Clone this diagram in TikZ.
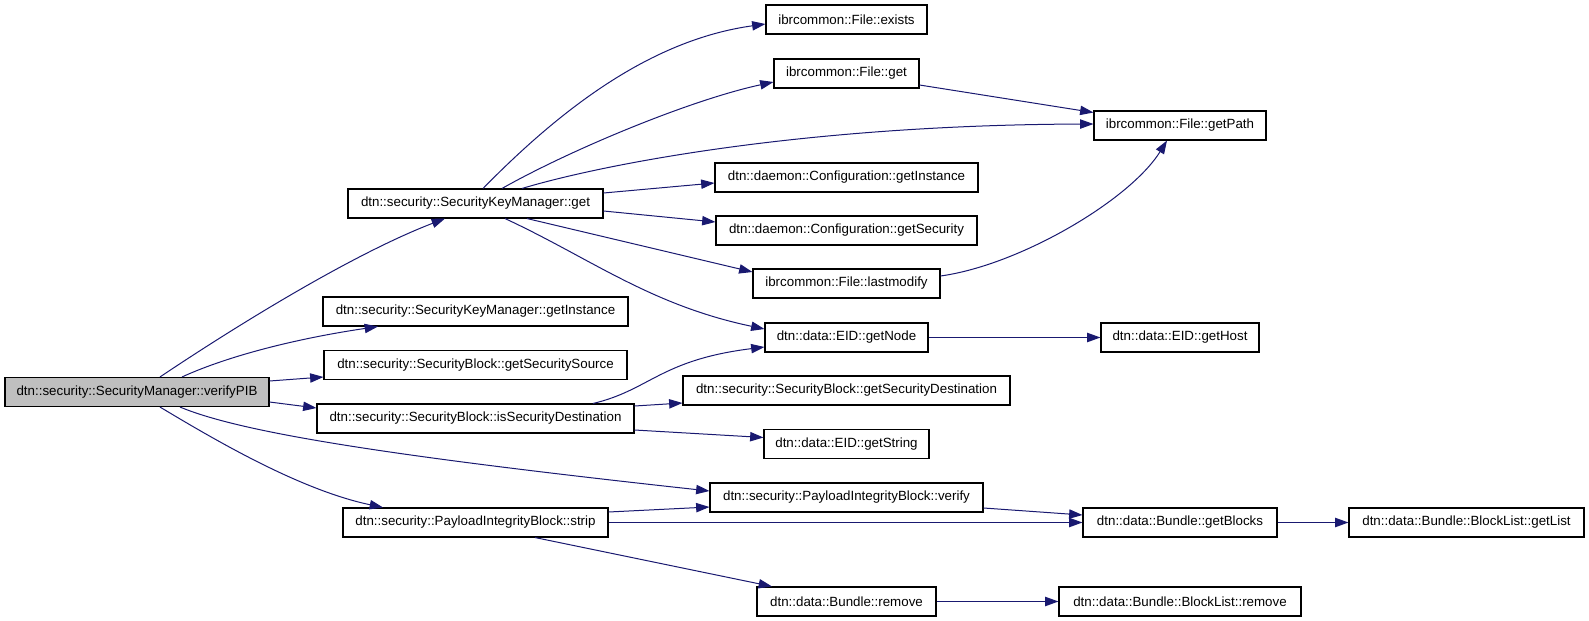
\documentclass[tikz,border=0pt]{standalone}
\usepackage{fontspec}
\setmainfont{Liberation Sans}
\usetikzlibrary{arrows.meta,calc}
\definecolor{edgeblue}{HTML}{191970}
\definecolor{pibgray}{HTML}{BFBFBF}
\begin{document}
\begin{tikzpicture}[x=0.75pt,y=-0.75pt,
  fn/.style={draw=black, line width=0.8pt, fill=white, inner sep=0pt, minimum height=21.75pt, font=\fontsize{10}{12}\selectfont},
  call/.style={draw=edgeblue, line width=0.75pt, -{Triangle[length=10pt,width=7pt]}, fill=none}]
\useasboundingbox (0,0) rectangle (1589,621);

% nodes
\node[fn, minimum width=198pt, fill=pibgray] (pib) at (137,392) {dtn::security::SecurityManager::verifyPIB};
\node[fn, minimum width=191.25pt] (skmget) at (475.5,203.5) {dtn::security::SecurityKeyManager::get};
\node[fn, minimum width=228.75pt] (skminst) at (475.5,311.5) {dtn::security::SecurityKeyManager::getInstance};
\node[fn, minimum width=227.25pt] (src) at (475.5,365) {dtn::security::SecurityBlock::getSecuritySource};
\node[fn, minimum width=237.75pt] (isdest) at (475.5,418.5) {dtn::security::SecurityBlock::isSecurityDestination};
\node[fn, minimum width=198.75pt] (strip) at (475.5,522.5) {dtn::security::PayloadIntegrityBlock::strip};

\node[fn, minimum width=120.75pt] (exists) at (846.5,19.5) {ibrcommon::File::exists};
\node[fn, minimum width=108.75pt] (fget) at (846.5,73.5) {ibrcommon::File::get};
\node[fn, minimum width=197.25pt] (cinst) at (846.5,177.5) {dtn::daemon::Configuration::getInstance};
\node[fn, minimum width=195.75pt] (csec) at (846.5,230.5) {dtn::daemon::Configuration::getSecurity};
\node[fn, minimum width=140.25pt] (lastmod) at (846.5,283.5) {ibrcommon::File::lastmodify};
\node[fn, minimum width=122.25pt] (getnode) at (846.5,337.5) {dtn::data::EID::getNode};
\node[fn, minimum width=245.25pt] (secdest) at (846.5,390.5) {dtn::security::SecurityBlock::getSecurityDestination};
\node[fn, minimum width=123.75pt] (getstring) at (846.5,444) {dtn::data::EID::getString};
\node[fn, minimum width=204.75pt] (verify) at (846.5,497.5) {dtn::security::PayloadIntegrityBlock::verify};
\node[fn, minimum width=134.25pt] (bremove) at (846.5,601.5) {dtn::data::Bundle::remove};

\node[fn, minimum width=129pt] (getpath) at (1180,125.5) {ibrcommon::File::getPath};
\node[fn, minimum width=118.5pt] (gethost) at (1180,337.5) {dtn::data::EID::getHost};
\node[fn, minimum width=145.5pt] (getblocks) at (1180,522.5) {dtn::data::Bundle::getBlocks};
\node[fn, minimum width=181.5pt] (blremove) at (1180,601.5) {dtn::data::Bundle::BlockList::remove};
\node[fn, minimum width=176.25pt] (getlist) at (1466.5,522.5) {dtn::data::Bundle::BlockList::getList};

% edges from verifyPIB
\draw[call] ($(pib.north)+(23,0)$) .. controls (230,330) and (350,255) .. ($(skmget.south)+(-30.5,0)$);
\draw[call] ($(pib.north)+(45,0)$) .. controls (230,355) and (300,338) .. ($(skminst.south)+(-97.5,0)$);
\draw[call] ($(pib.east)+(0,-11)$) -- ($(src.west)+(0,12)$);
\draw[call] ($(pib.east)+(0,10)$) -- ($(isdest.west)+(0,-10.5)$);
\draw[call] ($(pib.south)+(43,0)$) .. controls (240,432) and (380,455) .. ($(verify.west)+(0,-6.5)$);
\draw[call] ($(pib.south)+(23,0)$) .. controls (215,440) and (300,490) .. ($(strip.north)+(-92.5,0)$);

% edges from SecurityKeyManager::get
\draw[call] ($(skmget.north)+(7.5,0)$) .. controls (560,110) and (650,40) .. ($(exists.west)+(0,4.5)$);
\draw[call] ($(skmget.north)+(26.5,0)$) .. controls (570,150) and (690,100) .. ($(fget.west)+(0,8.5)$);
\draw[call] ($(skmget.north)+(46.5,0)$) .. controls (600,165) and (800,125) .. ($(getpath.west)+(0,-1.5)$);
\draw[call] ($(skmget.east)+(0,-10.5)$) -- ($(cinst.west)+(0,5.5)$);
\draw[call] ($(skmget.east)+(0,7.5)$) -- ($(csec.west)+(0,-8.5)$);
\draw[call] ($(skmget.south)+(51.5,0)$) -- ($(lastmod.west)+(0,-11.5)$);
\draw[call] ($(skmget.south)+(29.5,0)$) .. controls (590,258) and (650,305) .. ($(getnode.west)+(0,-8.5)$);

% second level
\draw[call] ($(fget.east)+(0,11.5)$) -- ($(getpath.west)+(0,-13)$);
\draw[call] ($(lastmod.east)+(0,-7.5)$) .. controls (1020,265) and (1130,200) .. ($(getpath.south)+(-13,0)$);
\draw[call] ($(isdest.north)+(117.5,0)$) .. controls (650,390) and (660,360) .. ($(getnode.west)+(0,9.5)$);
\draw[call] ($(isdest.east)+(0,-12.5)$) -- ($(secdest.west)+(0,12.5)$);
\draw[call] ($(isdest.east)+(0,11.5)$) -- ($(getstring.west)+(0,-6.5)$);
\draw[call] (getnode.east) -- (gethost.west);
\draw[call] ($(strip.east)+(0,-10.5)$) -- ($(verify.west)+(0,9.5)$);
\draw[call] (strip.east) -- (getblocks.west);
\draw[call] ($(strip.south)+(59.5,0)$) -- ($(bremove.north)+(-74.5,0)$);
\draw[call] ($(verify.east)+(0,10.5)$) -- ($(getblocks.west)+(0,-7.5)$);
\draw[call] (getblocks.east) -- (getlist.west);
\draw[call] (bremove.east) -- (blremove.west);
\end{tikzpicture}
\end{document}
